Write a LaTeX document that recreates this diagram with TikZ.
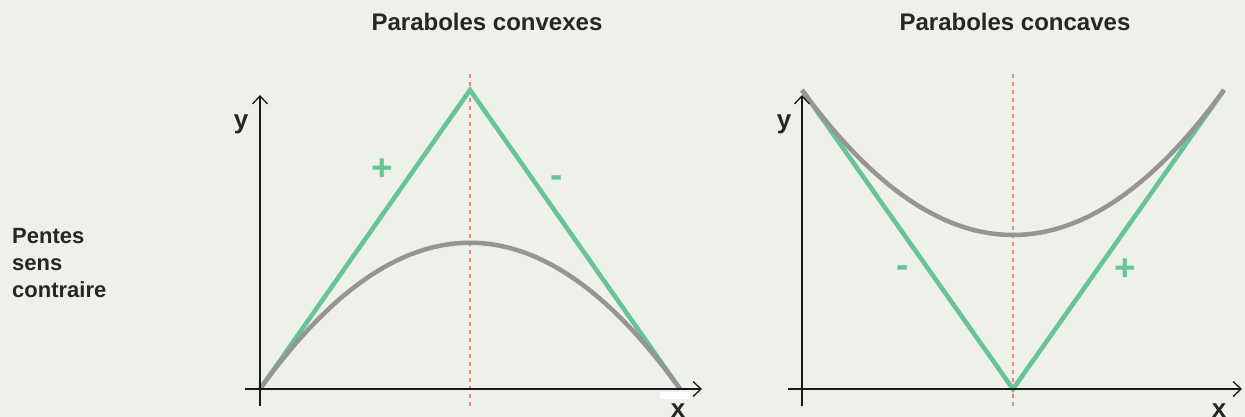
\documentclass[tikz,border=0pt]{standalone}
\usepackage{fontspec}
\setmainfont{Liberation Sans}
\usetikzlibrary{arrows.meta}
\begin{document}
\begin{tikzpicture}[x=1pt,y=-1pt,
  axis/.style={line width=1.3pt,draw=black!90,-{Straight Barb[length=8pt,width=15pt,line width=1.3pt]}},
  greenline/.style={line width=4.5pt,draw=curvegreen,line join=miter},
  grayline/.style={line width=4.5pt,draw=curvegray},
  sym/.style={line width=1.2pt,draw=dashred,dash pattern=on 4pt off 4pt},
  title/.style={font=\bfseries\fontsize{24}{28}\selectfont,text=black!85,anchor=base},
  rowlbl/.style={font=\bfseries\fontsize{22}{26}\selectfont,text=black!85,anchor=base west,inner sep=0pt},
  axlbl/.style={font=\bfseries\fontsize{26}{28}\selectfont,text=black!85},
  sign/.style={font=\bfseries\fontsize{37}{40}\selectfont,text=curvegreen,inner sep=0pt}]
\definecolor{bg}{HTML}{EEF0EA}
\definecolor{curvegreen}{HTML}{66C495}
\definecolor{curvegray}{HTML}{959595}
\definecolor{dashred}{HTML}{F2806E}
\fill[bg] (0,0) rectangle (1245,417);
\useasboundingbox (0,0) rectangle (1245,417);
% titles
\node[title] (t1) at (487,31) {Paraboles convexes};
\node[title] (t2) at (1015,31) {Paraboles concaves};
\node[rowlbl] (r1) at (12,243) {Pentes};
\node[rowlbl] (r2) at (12,270) {sens};
\node[rowlbl] (r3) at (12,297) {contraire};
% ---- left plot
\coordinate (o1) at (260,389);
\coordinate (ytop1) at (260,95);
\coordinate (ybot1) at (260,406);
\coordinate (xl1) at (245,389);
\coordinate (xr1) at (702,389);
\coordinate (apex1) at (470,90);
\coordinate (end1) at (680,389);
\coordinate (st1) at (470,74);
\coordinate (sb1) at (470,408);
\draw[sym] (st1) -- (sb1);
\draw[greenline] (o1) -- (apex1) -- (end1);
\draw[grayline] (o1) .. controls (400,194) and (540,194) .. (end1);
\fill[white] (660,392) rectangle (690,398.5);
\draw[axis] (ybot1) -- (ytop1);
\draw[axis] (xl1) -- (xr1);
\node[axlbl] (y1) at (241,124) {y};
\node[axlbl] (x1) at (678,411) {x};
\node[sign] (p1) at (382,170) {+};
\node[sign,anchor=base] (m1) at (557,187) {-};
% ---- right plot
\coordinate (o2) at (802,389);
\coordinate (ytop2) at (802,95);
\coordinate (ybot2) at (802,406);
\coordinate (xl2) at (788,389);
\coordinate (xr2) at (1242,389);
\coordinate (left2) at (802,90);
\coordinate (low2) at (1013,389);
\coordinate (right2) at (1224,90);
\coordinate (st2) at (1013,74);
\coordinate (sb2) at (1013,408);
\draw[sym] (st2) -- (sb2);
\draw[greenline] (left2) -- (low2) -- (right2);
\draw[grayline] (left2) .. controls (942.7,283.3) and (1083.3,283.3) .. (right2);
\draw[axis] (ybot2) -- (ytop2);
\draw[axis] (xl2) -- (xr2);
\node[axlbl] (y2) at (784,124) {y};
\node[axlbl] (x2) at (1219,411) {x};
\node[sign,anchor=base] (m2) at (903,277) {-};
\node[sign] (p2) at (1125,270) {+};
\end{tikzpicture}
\end{document}
